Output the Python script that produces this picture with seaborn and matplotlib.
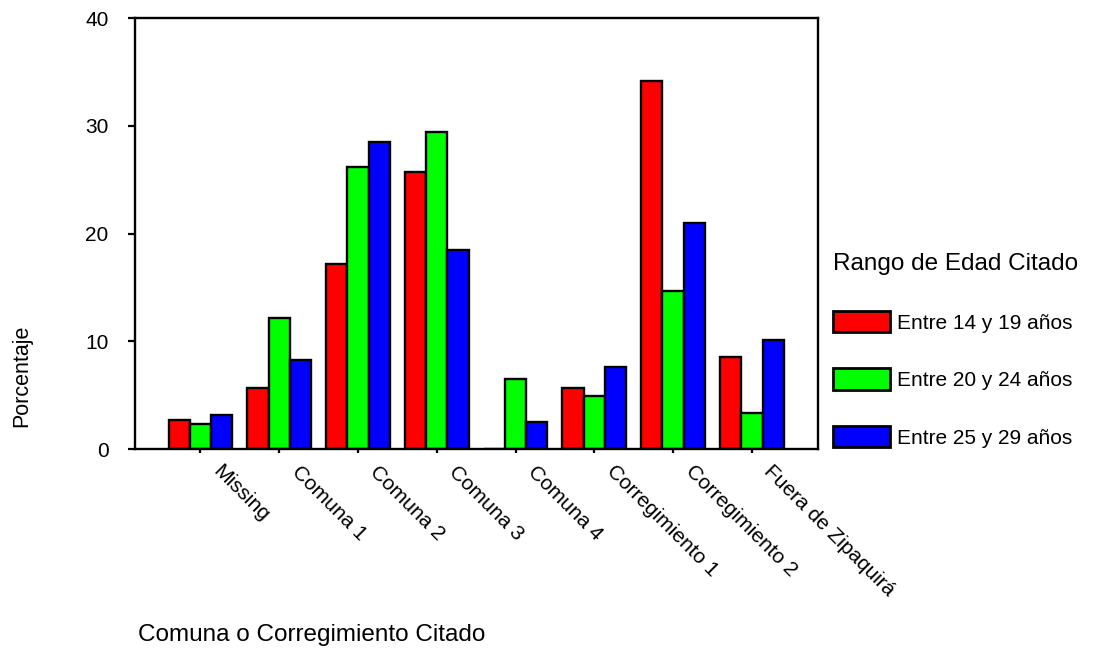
import numpy as np
import pandas as pd
import seaborn as sns
import matplotlib.pyplot as plt
from matplotlib.transforms import ScaledTranslation

# categories on the x axis
comunas = ["Missing", "Comuna 1", "Comuna 2", "Comuna 3", "Comuna 4",
           "Corregimiento 1", "Corregimiento 2", "Fuera de Zipaquirá"]
rangos = ["Entre 14 y 19 años", "Entre 20 y 24 años", "Entre 25 y 29 años"]

# porcentaje por rango de edad
edad_14_19 = [2.7, 5.7, 17.2, 25.7, 0.0, 5.7, 34.2, 8.5]
edad_20_24 = [2.3, 12.2, 26.2, 29.4, 6.5, 4.9, 14.7, 3.3]
edad_25_29 = [3.2, 8.3, 28.5, 18.5, 2.5, 7.6, 21.0, 10.1]

colores = ["#ff0000", "#00ff00", "#0000ff"]

rows = []
for serie, nombre in zip([edad_14_19, edad_20_24, edad_25_29], rangos):
	for c, v in zip(comunas, serie):
		rows.append({"Comuna": c, "Rango": nombre, "Porcentaje": v})
df = pd.DataFrame(rows)

sns.set_style("ticks")
plt.rcParams['font.family'] = ['Liberation Sans', 'DejaVu Sans']
plt.rcParams['text.color'] = 'black'
plt.rcParams['xtick.color'] = 'black'
plt.rcParams['ytick.color'] = 'black'
plt.rcParams['xtick.labelcolor'] = 'black'
plt.rcParams['ytick.labelcolor'] = 'black'

fig = plt.figure(figsize=(10.96, 6.56), dpi=100)
ax = fig.add_axes([0.1232, 0.3155, 0.6232, 0.657])

sns.barplot(data=df, x="Comuna", y="Porcentaje", hue="Rango", order=comunas,
	hue_order=rangos, palette=colores, edgecolor="black", linewidth=1.7,
	width=0.81, saturation=1, errorbar=None, ax=ax)

ax.set_xlim(-0.83, 7.84)
ax.set_ylim(0, 40)
ax.set_yticks([0, 10, 20, 30, 40])
ax.tick_params(axis="y", labelsize=15, length=5, width=1.6, direction="out", pad=14)
ax.tick_params(axis="x", labelsize=15, length=3, width=1.6, direction="out", pad=2)
for s in ax.spines.values():
	s.set_linewidth(1.7)
	s.set_color("black")

# diagonal category labels hanging from the ticks
offset = ScaledTranslation(0.22, -0.06, fig.dpi_scale_trans)
for lbl in ax.get_xticklabels():
	lbl.set_rotation(-45)
	lbl.set_rotation_mode("anchor")
	lbl.set_ha("left")
	lbl.set_va("top")
	lbl.set_transform(lbl.get_transform() + offset)

ax.set_xlabel("")
ax.set_ylabel("")
fig.text(138/1096, 1 - 635/656, "Comuna o Corregimiento Citado", fontsize=17.5,
	ha="left", va="center")
fig.text(22/1096, 1 - 376/656, "Porcentaje", fontsize=15.5, rotation=90,
	ha="center", va="center")

handles, labels = ax.get_legend_handles_labels()
ax.get_legend().remove()
leg = fig.legend(handles, labels, title="Rango de Edad Citado", loc="upper left",
	bbox_to_anchor=(833/1096, 1 - 253/656), frameon=False, fontsize=15,
	title_fontsize=17.5, borderaxespad=0, borderpad=0, handlelength=2.74,
	handleheight=1.2, handletextpad=0.35, labelspacing=1.72, alignment="left")
for h in leg.legend_handles:
	h.set_edgecolor("black")
	h.set_linewidth(2)

fig.savefig("out.png", dpi=100)
